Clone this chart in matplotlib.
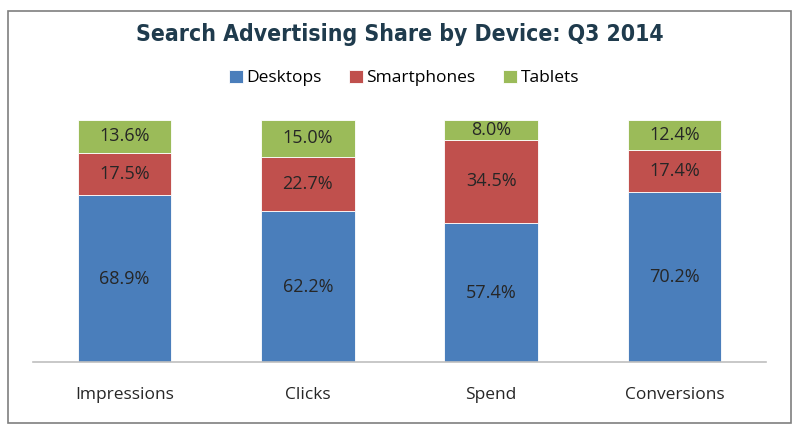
import numpy as np
import matplotlib.pyplot as plt
from matplotlib.patches import FancyBboxPatch

categories = ['Impressions', 'Clicks', 'Spend', 'Conversions']
desktops = [68.9, 62.2, 57.4, 70.2]
smartphones = [17.5, 22.7, 34.5, 17.4]
tablets = [13.6, 15.0, 8.0, 12.4]

fig = plt.figure(figsize=(8, 4.34), dpi=100)

# outer frame
fig.patches.append(FancyBboxPatch((8/800, 11/434), 783/800, 412/434, boxstyle='square,pad=0',
                                  transform=fig.transFigure, fill=False, edgecolor='#7f7f7f', linewidth=1.2))

ax = fig.add_axes([33/800, 72/434, 733/800, 242/434])
x = np.arange(len(categories))
w = 0.51
cols = ['#4A7EBB', '#C0504D', '#9BBB59']
b1 = ax.bar(x, desktops, w, color=cols[0], edgecolor='white', linewidth=0.6, label='Desktops')
b2 = ax.bar(x, smartphones, w, bottom=desktops, color=cols[1], edgecolor='white', linewidth=0.6, label='Smartphones')
bot3 = np.array(desktops) + np.array(smartphones)
b3 = ax.bar(x, tablets, w, bottom=bot3, color=cols[2], edgecolor='white', linewidth=0.6, label='Tablets')

for bars, vals in [(b1, desktops), (b2, smartphones), (b3, tablets)]:
    for r, v in zip(bars, vals):
        ax.text(r.get_x() + r.get_width()/2, r.get_y() + r.get_height()/2, f'{v:.1f}%',
                ha='center', va='center', fontsize=13, color='#262626', family='Open Sans')

ax.set_xlim(-0.5, 3.5)
ax.set_ylim(0, 100)
ax.set_yticks([])
ax.set_xticks(x)
ax.set_xticklabels(categories, fontsize=12.5, color='#262626', family='Open Sans')
ax.tick_params(axis='x', length=0, pad=18)
for s in ['top', 'right', 'left']:
    ax.spines[s].set_visible(False)
ax.spines['bottom'].set_color('#bfbfbf')
ax.spines['bottom'].set_linewidth(1.2)

fig.text(0.5, 399/434, 'Search Advertising Share by Device: Q3 2014', ha='center', va='center',
         fontsize=16.5, fontweight='bold', fontstretch='condensed', color='#1F3B4D', family='DejaVu Sans')
fig.legend(handles=[b1, b2, b3], loc='center', bbox_to_anchor=(0.505, 356/434), ncol=3, frameon=False,
           handlelength=0.8, handleheight=0.8, handletextpad=0.2, columnspacing=1.6,
           prop={'family': 'Open Sans', 'size': 12.5})

fig.savefig('out.png', dpi=100)
